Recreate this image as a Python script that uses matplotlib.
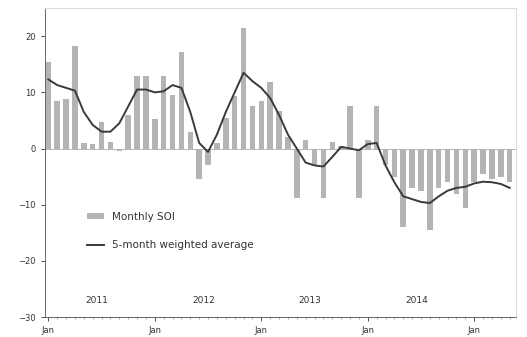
import matplotlib.pyplot as plt
import numpy as np

# monthly SOI values, one per month
soi_monthly = [15.4, 8.4, 8.8, 18.3, 1.0, 0.8, 4.8, 1.2, -0.5, 6.0,
               12.9, 12.9, 5.2, 12.9, 9.6, 17.1, 3.0, -5.5, -3.0, 1.0,
               5.5, 9.3, 21.5, 7.5, 8.4, 11.8, 6.6, 2.0, -8.8, 1.6,
               -3.0, -8.8, 1.2, 0.5, 7.5, -8.8, 1.5, 7.5, -3.0, -5.0,
               -14.0, -7.0, -7.5, -14.5, -7.0, -6.0, -8.0, -10.5, -6.0, -4.5,
               -5.5, -5.0, -6.0]
# 5-month weighted average as plotted
soi_avg = [12.3, 11.3, 10.8, 10.3, 6.5, 4.2, 3.0, 3.0, 4.5, 7.5,
           10.5, 10.5, 10.0, 10.2, 11.3, 10.8, 6.5, 1.0, -0.6, 2.5,
           6.5, 10.0, 13.5, 12.0, 10.8, 9.0, 6.0, 2.5, 0.0, -2.5,
           -3.0, -3.2, -1.5, 0.3, 0.0, -0.3, 0.8, 1.0, -3.0, -6.0,
           -8.5, -9.0, -9.5, -9.7, -8.5, -7.5, -7.0, -6.8, -6.2, -5.9,
           -6.0, -6.3, -7.0]
year_labels = ['2011', '2012', '2013', '2014']
month_label = 'Jan'

months = np.arange(len(soi_monthly))

fig = plt.figure(figsize=(5.27, 3.37), dpi=100)
ax = fig.add_axes([0.085, 0.059, 0.894, 0.917])

bars = ax.bar(months, soi_monthly, width=0.62, color='#b4b4b4', label='Monthly SOI')
line, = ax.plot(months, soi_avg, color='#3a3a3a', lw=1.4, label='5-month weighted average')

ax.set_xlim(-0.4, len(months) - 0.3)
ax.set_ylim(-30, 25)
ax.axhline(0, color='#aaaaaa', lw=0.6, zorder=0)

ax.set_yticks([-30, -20, -10, 0, 10, 20])
ax.set_xticks(np.arange(0, len(months), 12))
ax.set_xticklabels([month_label] * len(ax.get_xticks()))
ax.set_xticks(months, minor=True)
ax.tick_params(axis='both', labelsize=6, colors='#333333', length=3, width=0.6)
ax.tick_params(axis='x', which='minor', length=1.5, width=0.5, colors='#888888')

# year names sit inside the axes above each January tick span
for k, yr in enumerate(year_labels):
    ax.text(12 * k + 5.5, -27, yr, ha='center', va='center', fontsize=6.5, color='#333333')

for side in ['top', 'right']:
    ax.spines[side].set_color('#dddddd')
for side in ['left', 'bottom']:
    ax.spines[side].set_color('#666666')
    ax.spines[side].set_linewidth(0.7)

ax.legend([bars, line], ['Monthly SOI', '5-month weighted average'],
          loc='upper left', bbox_to_anchor=(0.07, 0.37), frameon=False, fontsize=7.5,
          handlelength=1.6, handleheight=0.5, labelspacing=1.7, labelcolor='#333333')

fig.savefig('out.png', dpi=100)
